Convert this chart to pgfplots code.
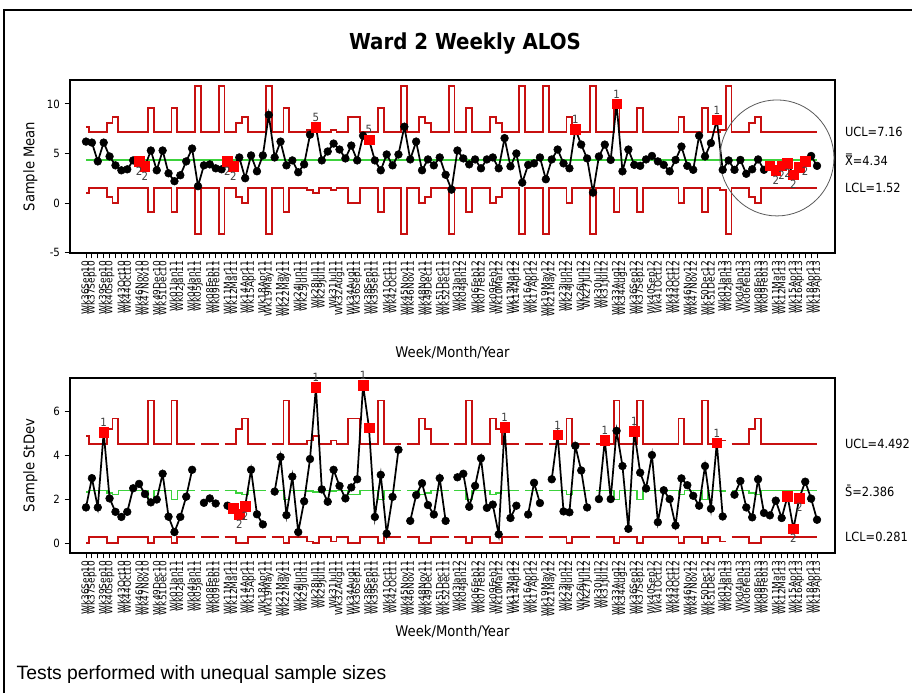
\documentclass[border=0pt]{standalone}
\usepackage{fontspec}
\setmainfont{DejaVu Sans}
\newfontfamily\cond{DejaVu Sans Condensed}[BoldFont={DejaVu Sans Condensed Bold}]
\newfontfamily\arialf{Liberation Sans}
\usepackage{pgfplots}
\pgfplotsset{compat=1.18}
\usepackage{pgfplotstable}

\definecolor{limred}{RGB}{200,16,16}
\definecolor{clgreen}{RGB}{60,210,60}
\definecolor{flagred}{RGB}{255,0,0}

\pgfplotstableread{
i xbar s
1 6.2 1.62
2 6.1 2.95
3 4.2 1.62
4 6.1 5.04
5 4.7 2.03
6 3.8 1.42
7 3.3 1.19
8 3.4 1.42
9 4.3 2.49
10 4.2 2.69
11 3.7 2.23
12 5.3 1.85
13 3.3 1.98
14 5.3 3.15
15 3.0 1.2
16 2.2 0.5
17 2.8 1.19
18 4.2 2.11
19 5.5 3.33
20 1.7 nan
21 3.8 1.83
22 3.9 2.03
23 3.5 1.8
24 3.4 nan
25 4.2 1.7
26 3.7 1.57
27 4.6 1.31
28 2.5 1.68
29 4.8 3.33
30 3.2 1.31
31 4.8 0.85
32 8.9 nan
33 4.6 2.34
34 6.2 3.91
35 3.8 1.27
36 4.3 3.02
37 3.1 0.5
38 3.9 1.9
39 6.9 3.82
40 7.65 7.07
41 4.3 2.44
42 5.2 1.88
43 6.0 3.33
44 5.4 2.6
45 4.5 2.03
46 5.8 2.53
47 4.3 2.9
48 6.8 7.18
49 6.4 5.24
50 4.3 1.19
51 3.3 3.1
52 4.9 0.43
53 3.8 2.1
54 4.9 4.24
55 7.7 nan
56 4.4 1.01
57 6.2 2.18
58 3.3 2.72
59 4.4 1.73
60 3.8 1.3
61 4.6 2.95
62 2.85 1.01
63 1.35 nan
64 5.3 2.99
65 4.5 3.15
66 3.9 1.65
67 4.4 2.6
68 3.5 3.85
69 4.4 1.6
70 4.6 1.75
71 3.5 0.4
72 6.55 5.26
73 3.7 1.14
74 5.0 1.7
75 2.05 nan
76 3.85 1.3
77 4.0 2.74
78 4.6 1.82
79 2.4 nan
80 4.4 2.9
81 5.4 4.92
82 4.0 1.44
83 3.5 1.4
84 7.45 4.42
85 5.9 3.3
86 4.5 1.62
87 1.05 nan
88 4.7 2.0
89 5.9 4.68
90 4.35 2.0
91 10.0 5.1
92 3.2 3.5
93 5.4 0.65
94 3.85 5.07
95 3.75 3.2
96 4.4 2.48
97 4.75 4.0
98 4.2 0.95
99 3.85 2.4
100 3.2 2.0
101 4.35 0.8
102 5.7 2.94
103 3.75 2.63
104 3.35 2.15
105 6.8 1.7
106 4.7 3.5
107 6.05 1.56
108 8.4 4.55
109 3.35 1.21
110 4.3 nan
111 3.35 2.2
112 4.35 2.82
113 2.95 1.62
114 3.4 1.17
115 4.4 2.9
116 3.35 1.37
117 3.75 1.26
118 3.3 1.93
119 3.75 1.14
120 4.0 2.13
121 2.85 0.65
122 3.6 2.05
123 4.2 2.79
124 4.75 2.02
125 3.75 1.06
}\chartdata

\newcommand{\tlfont}{\cond\fontsize{7.5}{8}\selectfont}
\newcommand{\rlab}{\cond\fontsize{9.5}{11}\selectfont}
\newcommand{\flagfont}{\cond\fontsize{8.5}{9}\selectfont}

\pgfplotsset{spc/.style={
  scale only axis, width=573.75pt,
  xmin=-1.714, xmax=128.05,
  clip=false,
  unbounded coords=jump,
  axis line style={line width=1.1pt},
  tick align=outside,
  xtick pos=left, ytick pos=left,
  major tick length=4pt, minor tick length=4pt,
  every tick/.style={black, line width=0.7pt},
  xtick={1,2,4,5,7,8,10,11,13,14,16,17,19,20,22,23,25,26,28,29,31,32,34,35,37,38,40,41,43,44,46,47,49,50,52,53,55,56,58,59,61,62,64,65,67,68,70,71,73,74,76,77,79,80,82,83,85,86,88,89,91,92,94,95,97,98,100,101,103,104,106,107,109,110,112,113,115,116,118,119,121,122,124,125},
  minor xtick={3,6,...,123},
  xticklabels={Wk36Sep10,Wk37Sep10,Wk39Sep10,Wk40Sep10,Wk43Oct10,Wk44Oct10,Wk46Nov10,Wk47Nov10,Wk49Dec10,Wk51Dec10,Wk01Jan11,Wk02Jan11,Wk04Jan11,Wk05Jan11,Wk08Feb11,Wk09Feb11,Wk11Mar11,Wk12Mar11,Wk14Apr11,Wk15Apr11,Wk18Apr11,Wk19May11,Wk21May11,Wk22May11,Wk24Jun11,Wk25Jun11,Wk28Jul11,Wk29Jul11,Wk31Jul11,Wk32Aug11,Wk34Aug11,Wk36Sep11,Wk38Sep11,Wk39Sep11,Wk41Oct11,Wk42Oct11,Wk45Nov11,Wk46Nov11,Wk48Nov11,Wk49Dec11,Wk51Dec11,Wk52Dec11,Wk03Jan12,Wk04Jan12,Wk06Feb12,Wk07Feb12,Wk09Feb12,Wk10Mar12,Wk13Mar12,Wk14Apr12,Wk16Apr12,Wk17Apr12,Wk19May12,Wk21May12,Wk23Jun12,Wk24Jun12,Wk26Jun12,Wk27Jul12,Wk30Jul12,Wk31Jul12,Wk33Aug12,Wk34Aug12,Wk36Sep12,Wk37Sep12,Wk40Sep12,Wk41Oct12,Wk43Oct12,Wk44Oct12,Wk46Nov12,Wk47Nov12,Wk50Dec12,Wk51Dec12,Wk01Jan13,Wk02Jan13,Wk04Jan13,Wk06Feb13,Wk08Feb13,Wk09Feb13,Wk11Mar13,Wk12Mar13,Wk15Apr13,Wk16Apr13,Wk18Apr13,Wk19Apr13},
  xticklabel style={rotate=90, anchor=east, font=\tlfont, inner sep=1.5pt},
  yticklabel style={font=\cond\fontsize{8.5}{10}\selectfont},
  /pgf/number format/assume math mode=true,
  every axis y label/.style={at={(axis description cs:-0.052,0.5)}, rotate=90, anchor=center, font=\cond\fontsize{11}{13}\selectfont},
  limline/.style={const plot, limred, line width=1.4pt, mark=none},
  dataline/.style={black, line width=1.3pt, mark=*, mark size=2.9pt, mark options={fill=black, line width=0.4pt}},
  flagmark/.style={only marks, mark=square*, mark size=3.6pt, flagred, mark options={fill=flagred, draw=flagred}},
  flagabove/.style={draw=none, mark=none, point meta=explicit symbolic, nodes near coords, nodes near coords style={anchor=south, font=\flagfont, text=black!75, inner sep=1pt, yshift=3pt}},
  flagbelow/.style={draw=none, mark=none, point meta=explicit symbolic, nodes near coords, nodes near coords style={anchor=north, font=\flagfont, text=black!75, inner sep=1pt, yshift=-3pt}},
}}

\begin{document}
\begin{tikzpicture}
\useasboundingbox (0,0) rectangle (684pt,519.75pt);
\draw[line width=0.8pt] (3pt,0) -- (3pt,512.25pt) -- (684pt,512.25pt);
\node[font=\cond\bfseries\fontsize{16.5}{19}\selectfont] at (348.75pt,487pt) {Ward 2 Weekly ALOS};

% ---------- Xbar chart ----------
\begin{axis}[spc, at={(52.5pt,459.75pt)}, anchor=north west, height=129.75pt,
  ymin=-5.05, ymax=12.42, ytick={-5,0,5,10},
  ylabel={Sample Mean}, xlabel={Week/Month/Year},
  every axis x label/.style={at={(axis description cs:0.5,-0.578)}, anchor=center, font=\cond\fontsize{11}{13}\selectfont}]
\addplot[limline] coordinates {(1,7.68)(1.5,7.16)(4.5,8.07)(5.5,8.65)(6.5,7.16)(11.5,9.62)(12.5,7.16)(15.5,9.62)(16.5,7.16)(19.5,11.8)(20.5,7.16)(23.5,11.8)(24.5,7.16)(26.5,8.07)(27.5,8.65)(28.5,7.16)(31.5,11.8)(32.5,7.16)(34.5,9.62)(35.5,7.16)(38.5,7.39)(39.5,7.68)(40.5,7.16)(42.5,7.39)(43.5,7.16)(45.5,8.65)(47.5,7.16)(50.5,9.62)(51.5,7.16)(54.5,11.8)(55.5,7.16)(57.5,8.65)(58.5,8.07)(59.5,7.16)(62.5,11.8)(63.5,7.16)(65.5,9.62)(66.5,7.16)(69.5,8.65)(70.5,8.07)(71.5,7.16)(74.5,11.8)(75.5,7.16)(78.5,11.8)(79.5,7.16)(82.5,8.65)(83.5,7.16)(86.5,11.8)(87.5,7.16)(90.5,9.62)(91.5,7.16)(94.5,9.62)(95.5,7.16)(101.5,8.65)(102.5,7.16)(105.5,9.62)(106.5,7.16)(108.5,7.39)(109.5,11.8)(110.5,7.16)(113.5,8.07)(114.5,8.65)(115.5,7.16)(125,7.16)};
\addplot[limline] coordinates {(1,1.00)(1.5,1.52)(4.5,0.61)(5.5,0.03)(6.5,1.52)(11.5,-0.94)(12.5,1.52)(15.5,-0.94)(16.5,1.52)(19.5,-3.12)(20.5,1.52)(23.5,-3.12)(24.5,1.52)(26.5,0.61)(27.5,0.03)(28.5,1.52)(31.5,-3.12)(32.5,1.52)(34.5,-0.94)(35.5,1.52)(38.5,1.29)(39.5,1.00)(40.5,1.52)(42.5,1.29)(43.5,1.52)(45.5,0.03)(47.5,1.52)(50.5,-0.94)(51.5,1.52)(54.5,-3.12)(55.5,1.52)(57.5,0.03)(58.5,0.61)(59.5,1.52)(62.5,-3.12)(63.5,1.52)(65.5,-0.94)(66.5,1.52)(69.5,0.03)(70.5,0.61)(71.5,1.52)(74.5,-3.12)(75.5,1.52)(78.5,-3.12)(79.5,1.52)(82.5,0.03)(83.5,1.52)(86.5,-3.12)(87.5,1.52)(90.5,-0.94)(91.5,1.52)(94.5,-0.94)(95.5,1.52)(101.5,0.03)(102.5,1.52)(105.5,-0.94)(106.5,1.52)(108.5,1.29)(109.5,-3.12)(110.5,1.52)(113.5,0.61)(114.5,0.03)(115.5,1.52)(125,1.52)};
\addplot[clgreen, line width=1.3pt, mark=none] coordinates {(1,4.34)(125,4.34)};
\addplot[dataline] table[x=i, y=xbar] {\chartdata};
\addplot[flagmark] coordinates {(10,4.2)(11,3.7)(25,4.2)(26,3.7)(40,7.65)(49,6.4)(84,7.45)(91,10.0)(108,8.4)(117,3.75)(118,3.3)(119,3.75)(120,4.0)(121,2.85)(122,3.6)(123,4.2)};
\addplot[flagabove] coordinates {(40,7.65)[5] (49,6.4)[5] (84,7.45)[1] (91,10.0)[1] (108,8.4)[1]};
\addplot[flagbelow] coordinates {(10,4.2)[2] (11,3.7)[2] (25,4.2)[2] (26,3.7)[2] (118,3.3)[2] (119,3.75)[2] (120,4.0)[2] (121,2.85)[2] (123,4.2)[2]};
\draw[black!65, line width=0.6pt] (axis cs:118.2,4.55) ellipse [x radius=42.75pt, y radius=43.5pt];
\node[anchor=west, font=\rlab, xshift=4pt] at (axis cs:128.05,7.16) {UCL=7.16};
\node[anchor=west, font=\rlab, xshift=4pt] at (axis cs:128.05,4.34) {X^^^^033f=4.34};
\node[anchor=west, font=\rlab, xshift=4pt] at (axis cs:128.05,1.52) {LCL=1.52};
\end{axis}

% ---------- S chart ----------
\begin{axis}[spc, at={(52.5pt,236.25pt)}, anchor=north west, height=131.25pt,
  ymin=-0.45, ymax=7.5, ytick={0,2,4,6},
  ylabel={Sample StDev}, xlabel={Week/Month/Year},
  every axis x label/.style={at={(axis description cs:0.5,-0.451)}, anchor=center, font=\cond\fontsize{11}{13}\selectfont}]
\addplot[limline] coordinates {(1,4.885)(1.5,4.492)(4.5,5.19)(5.5,5.66)(6.5,4.492)(11.5,6.48)(12.5,4.492)(15.5,6.48)(16.5,4.492)(19.5,4.492)(20,nan)(20.5,4.492)(23.5,4.492)(24,nan)(24.5,4.492)(26.5,5.19)(27.5,5.66)(28.5,4.492)(31.5,4.492)(32,nan)(32.5,4.492)(34.5,6.48)(35.5,4.492)(38.5,4.66)(39.5,4.885)(40.5,4.492)(42.5,4.66)(43.5,4.492)(45.5,5.66)(47.5,4.492)(50.5,6.48)(51.5,4.492)(54.5,4.492)(55,nan)(55.5,4.492)(57.5,5.66)(58.5,5.19)(59.5,4.492)(62.5,4.492)(63,nan)(63.5,4.492)(65.5,6.48)(66.5,4.492)(69.5,5.66)(70.5,5.19)(71.5,4.492)(74.5,4.492)(75,nan)(75.5,4.492)(78.5,4.492)(79,nan)(79.5,4.492)(82.5,5.66)(83.5,4.492)(86.5,4.492)(87,nan)(87.5,4.492)(90.5,6.48)(91.5,4.492)(94.5,6.48)(95.5,4.492)(101.5,5.66)(102.5,4.492)(105.5,6.48)(106.5,4.492)(108.5,4.66)(109.5,4.66)(110,nan)(110.5,4.492)(113.5,5.19)(114.5,5.66)(115.5,4.492)(125,4.492)};
\addplot[limline] coordinates {(1,0)(1.5,0.281)(4.5,0)(5.5,0)(6.5,0.281)(11.5,0)(12.5,0.281)(15.5,0)(16.5,0.281)(19.5,0.281)(20,nan)(20.5,0.281)(23.5,0.281)(24,nan)(24.5,0.281)(26.5,0)(27.5,0)(28.5,0.281)(31.5,0.281)(32,nan)(32.5,0.281)(34.5,0)(35.5,0.281)(38.5,0.072)(39.5,0)(40.5,0.281)(42.5,0.072)(43.5,0.281)(45.5,0)(47.5,0.281)(50.5,0)(51.5,0.281)(54.5,0.281)(55,nan)(55.5,0.281)(57.5,0)(58.5,0)(59.5,0.281)(62.5,0.281)(63,nan)(63.5,0.281)(65.5,0)(66.5,0.281)(69.5,0)(70.5,0)(71.5,0.281)(74.5,0.281)(75,nan)(75.5,0.281)(78.5,0.281)(79,nan)(79.5,0.281)(82.5,0)(83.5,0.281)(86.5,0.281)(87,nan)(87.5,0.281)(90.5,0)(91.5,0.281)(94.5,0)(95.5,0.281)(101.5,0)(102.5,0.281)(105.5,0)(106.5,0.281)(108.5,0.072)(109.5,0.072)(110,nan)(110.5,0.281)(113.5,0)(114.5,0)(115.5,0.281)(125,0.281)};
\addplot[const plot, clgreen, line width=1.3pt, mark=none] coordinates {(1,2.338)(1.5,2.386)(4.5,2.291)(5.5,2.204)(6.5,2.386)(11.5,1.984)(12.5,2.386)(15.5,1.984)(16.5,2.386)(19.5,2.386)(20,nan)(20.5,2.386)(23.5,2.386)(24,nan)(24.5,2.386)(26.5,2.291)(27.5,2.204)(28.5,2.386)(31.5,2.386)(32,nan)(32.5,2.386)(34.5,1.984)(35.5,2.386)(38.5,2.366)(39.5,2.338)(40.5,2.386)(42.5,2.366)(43.5,2.386)(45.5,2.204)(47.5,2.386)(50.5,1.984)(51.5,2.386)(54.5,2.386)(55,nan)(55.5,2.386)(57.5,2.204)(58.5,2.291)(59.5,2.386)(62.5,2.386)(63,nan)(63.5,2.386)(65.5,1.984)(66.5,2.386)(69.5,2.204)(70.5,2.291)(71.5,2.386)(74.5,2.386)(75,nan)(75.5,2.386)(78.5,2.386)(79,nan)(79.5,2.386)(82.5,2.204)(83.5,2.386)(86.5,2.386)(87,nan)(87.5,2.386)(90.5,1.984)(91.5,2.386)(94.5,1.984)(95.5,2.386)(101.5,2.204)(102.5,2.386)(105.5,1.984)(106.5,2.386)(108.5,2.366)(109.5,2.366)(110,nan)(110.5,2.386)(113.5,2.291)(114.5,2.204)(115.5,2.386)(125,2.386)};
\addplot[dataline] table[x=i, y=s] {\chartdata};
\addplot[flagmark] coordinates {(4,5.04)(26,1.57)(27,1.31)(28,1.68)(40,7.07)(48,7.18)(49,5.24)(72,5.26)(81,4.92)(89,4.68)(94,5.07)(108,4.55)(120,2.13)(121,0.65)(122,2.05)};
\addplot[flagabove] coordinates {(4,5.04)[1] (40,7.07)[1] (48,7.18)[1] (72,5.26)[1] (81,4.92)[1] (89,4.68)[1] (94,5.07)[1] (108,4.55)[1]};
\addplot[flagbelow] coordinates {(27,1.31)[2] (28,1.68)[2] (121,0.65)[2] (122,2.05)[2]};
\node[anchor=west, font=\rlab, xshift=4pt] at (axis cs:128.05,4.492) {UCL=4.492};
\node[anchor=west, font=\rlab, xshift=4pt] at (axis cs:128.05,2.386) {S^^^^0304=2.386};
\node[anchor=west, font=\rlab, xshift=4pt] at (axis cs:128.05,0.281) {LCL=0.281};
\end{axis}

\node[anchor=base west, font=\arialf\fontsize{14.5}{17}\selectfont] at (9pt,10.5pt) {Tests performed with unequal sample sizes};
\end{tikzpicture}
\end{document}
